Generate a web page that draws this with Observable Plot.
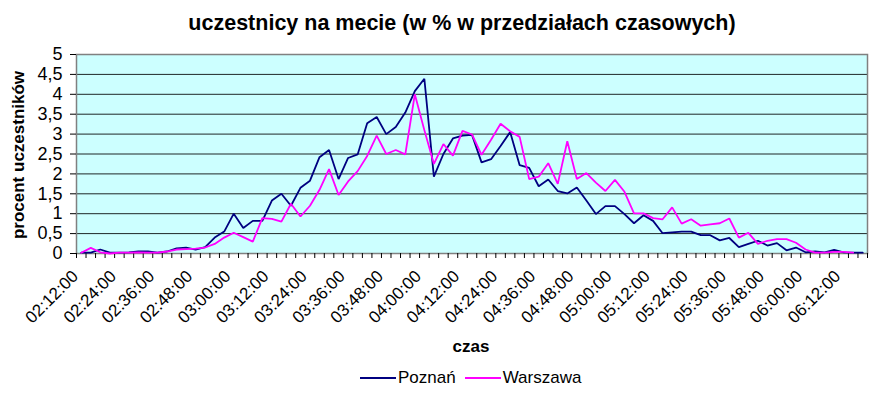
<!DOCTYPE html>
<html>
<head>
<meta charset="utf-8">
<script src="https://cdn.jsdelivr.net/npm/d3@7"></script>
<script src="https://cdn.jsdelivr.net/npm/@observablehq/plot@0.6"></script>
<style>
  html, body { margin: 0; padding: 0; background: #fff; }
  #wrap { position: relative; width: 870px; height: 394px; font-family: "Liberation Sans", Arial, sans-serif; }
  #chart { position: absolute; left: 0; top: 0; }
  .t { position: absolute; white-space: nowrap; color: #000; }
  #title { left: 462px; top: 11px; transform: translateX(-50%); font-weight: bold; font-size: 21.5px; }
  #ytitle { left: 19px; top: 155px; transform: translate(-50%, -50%) rotate(-90deg); font-weight: bold; font-size: 17px; }
  #xtitle { left: 471px; top: 337px; transform: translateX(-50%); font-weight: bold; font-size: 17px; }
  #legend { left: 360px; top: 368px; font-size: 17px; display: flex; align-items: center; }
  .sw { display: inline-block; width: 36px; height: 2px; margin-right: 2px; }
</style>
</head>
<body>
<div id="wrap">
  <div id="chart"></div>
  <div class="t" id="title">uczestnicy na mecie (w % w przedziałach czasowych)</div>
  <div class="t" id="ytitle">procent uczestników</div>
  <div class="t" id="xtitle">czas</div>
  <div class="t" id="legend"><span class="sw" style="background:#000080"></span>Poznań<span class="sw" style="background:#FF00FF;margin-left:9px"></span>Warszawa</div>
</div>
<script>
const categories = [
  "02:12:00","02:15:00","02:18:00","02:21:00","02:24:00","02:27:00","02:30:00","02:33:00","02:36:00","02:39:00",
  "02:42:00","02:45:00","02:48:00","02:51:00","02:54:00","02:57:00","03:00:00","03:03:00","03:06:00","03:09:00",
  "03:12:00","03:15:00","03:18:00","03:21:00","03:24:00","03:27:00","03:30:00","03:33:00","03:36:00","03:39:00",
  "03:42:00","03:45:00","03:48:00","03:51:00","03:54:00","03:57:00","04:00:00","04:03:00","04:06:00","04:09:00",
  "04:12:00","04:15:00","04:18:00","04:21:00","04:24:00","04:27:00","04:30:00","04:33:00","04:36:00","04:39:00",
  "04:42:00","04:45:00","04:48:00","04:51:00","04:54:00","04:57:00","05:00:00","05:03:00","05:06:00","05:09:00",
  "05:12:00","05:15:00","05:18:00","05:21:00","05:24:00","05:27:00","05:30:00","05:33:00","05:36:00","05:39:00",
  "05:42:00","05:45:00","05:48:00","05:51:00","05:54:00","05:57:00","06:00:00","06:03:00","06:06:00","06:09:00",
  "06:12:00","06:15:00","06:18:00"
];
const poznan = [
  0.02,0.02,0.10,0.02,0.02,0.03,0.05,0.05,0.02,0.05,
  0.13,0.15,0.10,0.16,0.40,0.55,1.00,0.64,0.82,0.82,
  1.33,1.50,1.20,1.65,1.83,2.42,2.60,1.87,2.40,2.49,
  3.27,3.43,3.00,3.18,3.54,4.08,4.39,1.93,2.50,2.89,
  2.96,2.98,2.29,2.37,2.70,3.05,2.22,2.15,1.69,1.86,
  1.57,1.51,1.66,1.33,0.99,1.19,1.19,0.99,0.76,0.96,
  0.82,0.51,0.53,0.55,0.55,0.46,0.46,0.33,0.39,0.16,
  0.24,0.32,0.20,0.26,0.08,0.15,0.03,0.05,0.03,0.09,
  0.03,0.02,0.02
];
const warszawa = [
  0.02,0.14,0.03,0.00,0.02,0.02,0.03,0.02,0.02,0.05,
  0.10,0.11,0.12,0.15,0.24,0.40,0.52,0.41,0.30,0.89,
  0.87,0.80,1.25,0.93,1.20,1.60,2.12,1.47,1.81,2.07,
  2.45,2.96,2.50,2.60,2.49,4.00,3.10,2.25,2.75,2.46,
  3.08,2.99,2.48,2.86,3.26,3.07,2.93,1.87,1.93,2.27,
  1.75,2.82,1.87,2.02,1.78,1.57,1.85,1.55,1.01,1.01,
  0.89,0.86,1.16,0.75,0.86,0.70,0.73,0.76,0.88,0.40,
  0.52,0.24,0.32,0.36,0.36,0.27,0.10,0.02,0.02,0.04,
  0.04,0.02
];
const xTickLabels = ["02:12:00","02:24:00","02:36:00","02:48:00","03:00:00","03:12:00","03:24:00","03:36:00","03:48:00","04:00:00","04:12:00","04:24:00","04:36:00","04:48:00","05:00:00","05:12:00","05:24:00","05:36:00","05:48:00","06:00:00","06:12:00"];
const yTicks = [0,0.5,1,1.5,2,2.5,3,3.5,4,4.5,5];
const seriesNames = ["Poznań","Warszawa"];
const seriesColors = ["#000080","#FF00FF"];

const parse = d3.utcParse("%H:%M:%S");
const cat = categories.map(parse);
const half = (cat[1] - cat[0]) / 2;
const domain = [new Date(+cat[0] - half), new Date(+cat[cat.length - 1] + half)];
const boundaries = cat.map(d => new Date(+d - half)).concat([domain[1]]);

const data = [];
poznan.forEach((v, i) => data.push({t: cat[i], v, s: seriesNames[0]}));
warszawa.forEach((v, i) => data.push({t: cat[i], v, s: seriesNames[1]}));

const plot = Plot.plot({
  width: 870,
  height: 394,
  marginLeft: 76,
  marginRight: 3,
  marginTop: 54,
  marginBottom: 141,
  style: {fontFamily: "'Liberation Sans', Arial, sans-serif", fontSize: "17px", background: "transparent", color: "#000"},
  x: {type: "utc", domain},
  y: {domain: [0, 5]},
  color: {domain: seriesNames, range: seriesColors},
  marks: [
    Plot.frame({fill: "#CCFFFF", stroke: null}),
    Plot.gridY(yTicks, {stroke: "#000", strokeOpacity: 0.85}),
    Plot.frame({stroke: "#808080", strokeWidth: 1.5}),
    Plot.axisY({ticks: yTicks, tickSize: 6, tickPadding: 8, tickFormat: d => String(d).replace(".", ","), label: null, fontSize: 18, stroke: "#000"}),
    Plot.axisX({ticks: boundaries, tickSize: 5, tickFormat: () => "", label: null, stroke: "#000"}),
    Plot.axisX({ticks: xTickLabels.map(parse), tickSize: 0, tickRotate: -45, tickPadding: 20, dx: -6, tickFormat: d3.utcFormat("%H:%M:%S"), label: null, fontSize: 17}),
    Plot.line(data, {x: "t", y: "v", z: "s", stroke: "s", strokeWidth: 1.8, strokeLinejoin: "miter"})
  ]
});
document.getElementById("chart").appendChild(plot);
</script>
</body>
</html>
